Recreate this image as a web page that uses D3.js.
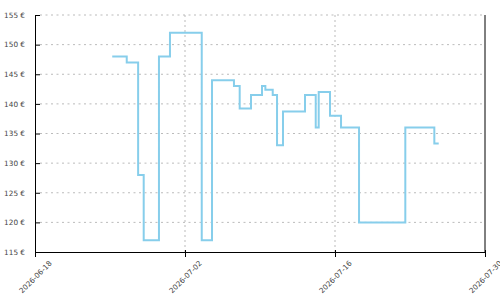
<!DOCTYPE html>
<html>
<head>
<meta charset="utf-8">
<style>
  body { margin: 0; background: #fff; }
  .tick text { font-family: "DejaVu Sans", Verdana, sans-serif; font-size: 7.3px; fill: #444; }
</style>
<script src="https://cdn.jsdelivr.net/npm/d3@7"></script>
</head>
<body>
<svg id="chart" width="500" height="300"></svg>
<script>
// price history, step after each change
const dates = [
  "2026-06-25T05:00", "2026-06-26T13:30", "2026-06-27T15:00", "2026-06-28T03:30",
  "2026-06-29T13:40", "2026-06-30T14:20", "2026-07-03T13:30", "2026-07-04T12:30",
  "2026-07-06T13:40", "2026-07-07T02:30", "2026-07-08T03:50", "2026-07-09T04:30",
  "2026-07-09T12:00", "2026-07-10T04:30", "2026-07-10T14:10", "2026-07-11T03:30",
  "2026-07-13T04:50", "2026-07-14T04:50", "2026-07-14T11:30", "2026-07-15T12:50",
  "2026-07-16T13:30", "2026-07-18T05:50", "2026-07-22T13:30", "2026-07-25T06:30",
  "2026-07-25T16:20"
];
const prices = [
  148, 147, 128, 117,
  148, 152, 117, 144,
  143, 139.2, 141.5, 143,
  142.4, 141.5, 133, 138.7,
  141.5, 136, 142, 138,
  136, 120, 136, 133.3,
  133.3
];
const xTicks = ["2026-06-18", "2026-07-02", "2026-07-16", "2026-07-30"];
const yTicks = [115, 120, 125, 130, 135, 140, 145, 150, 155];

const parse = d3.timeParse("%Y-%m-%dT%H:%M");
const parseDay = d3.timeParse("%Y-%m-%d");
const data = dates.map((d, i) => ({ date: parse(d), price: prices[i] }));

const svg = d3.select("#chart");
const mLeft = 35, mRight = 485, mTop = 15, mBottom = 252;

const x = d3.scaleTime()
  .domain([parseDay(xTicks[0]), parseDay(xTicks[xTicks.length - 1])])
  .range([mLeft, mRight]);
const y = d3.scaleLinear().domain([115, 155]).range([mBottom, mTop]);

// grid
svg.append("g").selectAll("line").data(yTicks.slice(1)).enter().append("line")
  .attr("x1", mLeft + 5).attr("x2", mRight)
  .attr("y1", d => y(d)).attr("y2", d => y(d))
  .attr("stroke", "#bbb").attr("stroke-dasharray", "2,3.5");
svg.append("g").selectAll("line").data(xTicks.slice(1, -1)).enter().append("line")
  .attr("x1", d => x(parseDay(d))).attr("x2", d => x(parseDay(d)))
  .attr("y1", mTop).attr("y2", mBottom)
  .attr("stroke", "#bbb").attr("stroke-dasharray", "2,3");

// line
const line = d3.line().curve(d3.curveStepAfter)
  .x(d => x(d.date)).y(d => y(d.price));
svg.append("path").datum(data)
  .attr("d", line)
  .attr("fill", "none")
  .attr("stroke", "#87ceeb")
  .attr("stroke-width", 2);

// axes
const yAxis = svg.append("g")
  .attr("transform", `translate(${mLeft},0)`)
  .call(d3.axisLeft(y).tickValues(yTicks).tickFormat(d => d + " €").tickSize(5).tickSizeOuter(0).tickPadding(5));
yAxis.selectAll(".tick line").attr("x2", 5);

svg.append("line")
  .attr("x1", mRight).attr("x2", mRight).attr("y1", mTop).attr("y2", mBottom)
  .attr("stroke", "#000");

const xAxis = svg.append("g")
  .attr("transform", `translate(0,${mBottom})`)
  .call(d3.axisBottom(x).tickValues(xTicks.map(parseDay)).tickFormat(d3.timeFormat("%Y-%m-%d")).tickSize(5).tickSizeOuter(0));
xAxis.selectAll(".tick line").attr("y1", -2);
xAxis.selectAll(".tick text")
  .attr("y", 0).attr("dy", "0.35em")
  .attr("text-anchor", "middle")
  .attr("transform", "translate(0,25) rotate(-45)");
</script>
</body>
</html>
